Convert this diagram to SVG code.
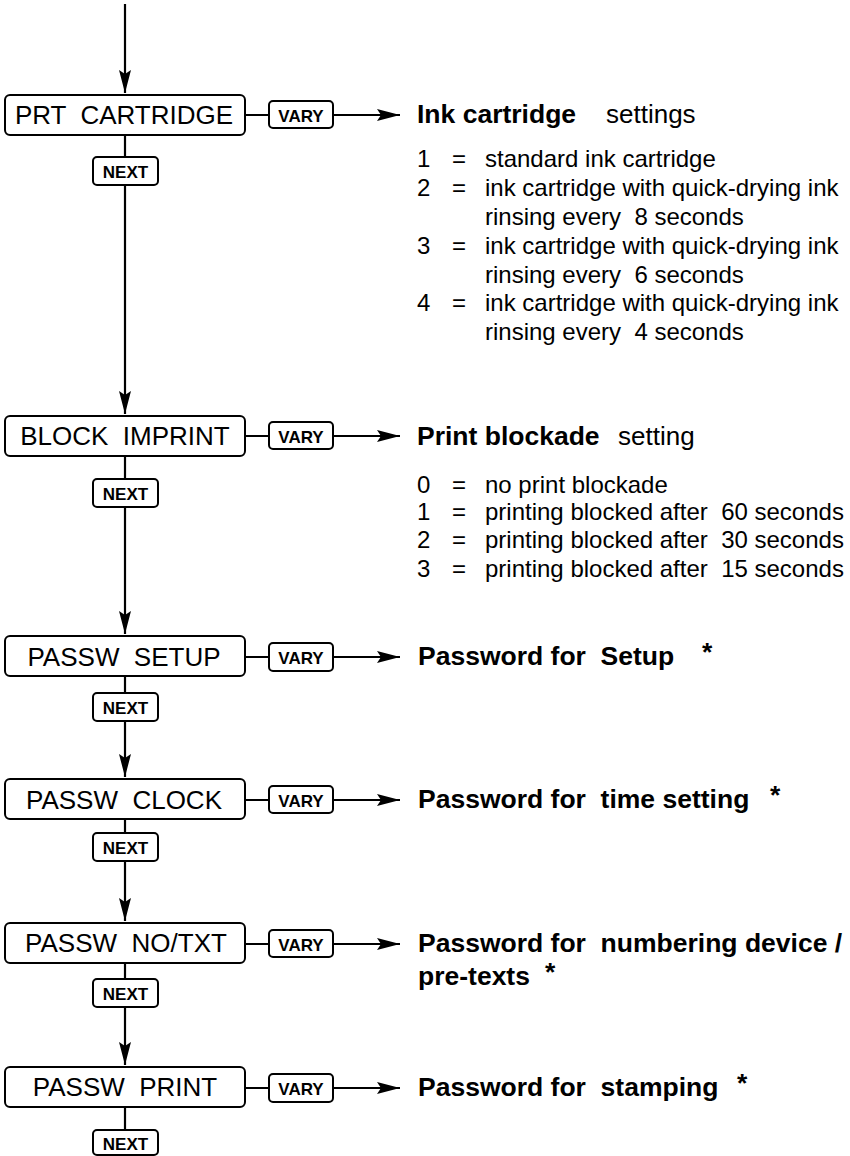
<svg xmlns="http://www.w3.org/2000/svg" width="850" height="1156" viewBox="0 0 850 1156">
<style>
text{font-family:"Liberation Sans",Arial,sans-serif;fill:#000;white-space:pre}
.box{fill:#fff;stroke:#000;stroke-width:2}
.btn{fill:#fff;stroke:#000;stroke-width:2}
.lbl{font-size:26px;text-anchor:middle}
.key{font-size:17px;font-weight:bold;text-anchor:middle}
.h{font-size:26.5px;font-weight:bold}
.n{font-size:24px}
.ln{stroke:#000;stroke-width:2.2;fill:none}
</style>
<defs>
<marker id="ah" markerUnits="userSpaceOnUse" markerWidth="26" markerHeight="14" viewBox="-24 -7 26 14" refX="0" refY="0" orient="auto">
<path d="M0,0 L-23,-6 L-19,0 L-23,6 Z" fill="#000"/>
</marker>
</defs>
<g id="connectors">
<line class="ln" x1="125" y1="4" x2="125" y2="93" marker-end="url(#ah)"/>
<line class="ln" x1="125" y1="134" x2="125" y2="414" marker-end="url(#ah)"/>
<line class="ln" x1="125" y1="456" x2="125" y2="634" marker-end="url(#ah)"/>
<line class="ln" x1="125" y1="676" x2="125" y2="777" marker-end="url(#ah)"/>
<line class="ln" x1="125" y1="819" x2="125" y2="921" marker-end="url(#ah)"/>
<line class="ln" x1="125" y1="963" x2="125" y2="1065" marker-end="url(#ah)"/>
<line class="ln" x1="125" y1="1107" x2="125" y2="1131"/>
<line class="ln" x1="245" y1="115" x2="400" y2="115" marker-end="url(#ah)"/>
<line class="ln" x1="245" y1="436" x2="400" y2="436" marker-end="url(#ah)"/>
<line class="ln" x1="245" y1="657" x2="400" y2="657" marker-end="url(#ah)"/>
<line class="ln" x1="245" y1="800" x2="400" y2="800" marker-end="url(#ah)"/>
<line class="ln" x1="245" y1="944" x2="400" y2="944" marker-end="url(#ah)"/>
<line class="ln" x1="245" y1="1088" x2="400" y2="1088" marker-end="url(#ah)"/>
</g>
<g id="prt-cartridge">
<rect class="box" x="5" y="95" width="240" height="40" rx="5"/>
<text class="lbl" x="124" y="124">PRT  CARTRIDGE</text>
<rect class="btn" x="269" y="101" width="64" height="27" rx="4"/>
<text class="key" x="301" y="122">VARY</text>
<rect class="btn" x="93" y="157" width="65" height="28" rx="4"/>
<text class="key" x="125.5" y="178">NEXT</text>
</g>
<g id="ink-text">
<text class="h" x="417" y="123">Ink cartridge</text>
<text x="606" y="123" style="font-size:26px">settings</text>
<text class="n" x="417" y="167">1</text><text class="n" x="452" y="167">=</text><text class="n" x="485" y="167">standard ink cartridge</text>
<text class="n" x="417" y="196">2</text><text class="n" x="452" y="196">=</text><text class="n" x="485" y="196">ink cartridge with quick-drying ink</text>
<text class="n" x="485" y="225">rinsing every  8 seconds</text>
<text class="n" x="417" y="254">3</text><text class="n" x="452" y="254">=</text><text class="n" x="485" y="254">ink cartridge with quick-drying ink</text>
<text class="n" x="485" y="283">rinsing every  6 seconds</text>
<text class="n" x="417" y="311">4</text><text class="n" x="452" y="311">=</text><text class="n" x="485" y="311">ink cartridge with quick-drying ink</text>
<text class="n" x="485" y="340">rinsing every  4 seconds</text>
</g>
<g id="block-imprint">
<rect class="box" x="5" y="416" width="240" height="40" rx="5"/>
<text class="lbl" x="125" y="445">BLOCK  IMPRINT</text>
<rect class="btn" x="269" y="422" width="64" height="27" rx="4"/>
<text class="key" x="301" y="443">VARY</text>
<rect class="btn" x="93" y="479" width="65" height="28" rx="4"/>
<text class="key" x="125.5" y="500">NEXT</text>
</g>
<g id="block-text">
<text class="h" x="417" y="445">Print blockade</text>
<text x="618" y="445" style="font-size:26px">setting</text>
<text class="n" x="417" y="493">0</text><text class="n" x="452" y="493">=</text><text class="n" x="485" y="493">no print blockade</text>
<text class="n" x="417" y="520">1</text><text class="n" x="452" y="520">=</text><text class="n" x="485" y="520">printing blocked after  60 seconds</text>
<text class="n" x="417" y="548">2</text><text class="n" x="452" y="548">=</text><text class="n" x="485" y="548">printing blocked after  30 seconds</text>
<text class="n" x="417" y="577">3</text><text class="n" x="452" y="577">=</text><text class="n" x="485" y="577">printing blocked after  15 seconds</text>
</g>
<g id="passw-setup">
<rect class="box" x="5" y="636" width="240" height="40" rx="5"/>
<text class="lbl" x="124" y="666">PASSW  SETUP</text>
<rect class="btn" x="269" y="643" width="64" height="28" rx="4"/>
<text class="key" x="301" y="664">VARY</text>
<rect class="btn" x="93" y="693" width="65" height="28" rx="4"/>
<text class="key" x="125.5" y="714">NEXT</text>
<text class="h" x="418" y="665">Password for  Setup</text>
<text class="h" x="702" y="661">*</text>
</g>
<g id="passw-clock">
<rect class="box" x="5" y="779" width="240" height="40" rx="5"/>
<text class="lbl" x="124" y="809">PASSW  CLOCK</text>
<rect class="btn" x="269" y="786" width="64" height="27" rx="4"/>
<text class="key" x="301" y="807">VARY</text>
<rect class="btn" x="93" y="833" width="65" height="28" rx="4"/>
<text class="key" x="125.5" y="854">NEXT</text>
<text class="h" x="418" y="808">Password for  time setting</text>
<text class="h" x="770" y="804">*</text>
</g>
<g id="passw-notxt">
<rect class="box" x="5" y="923" width="240" height="40" rx="5"/>
<text class="lbl" x="126" y="952">PASSW  NO/TXT</text>
<rect class="btn" x="269" y="930" width="64" height="27" rx="4"/>
<text class="key" x="301" y="951">VARY</text>
<rect class="btn" x="93" y="979" width="65" height="28" rx="4"/>
<text class="key" x="125.5" y="1000">NEXT</text>
<text class="h" x="418" y="952">Password for  numbering device /</text>
<text class="h" x="418" y="985">pre-texts</text>
<text class="h" x="545" y="981">*</text>
</g>
<g id="passw-print">
<rect class="box" x="5" y="1067" width="240" height="40" rx="5"/>
<text class="lbl" x="125" y="1096">PASSW  PRINT</text>
<rect class="btn" x="269" y="1074" width="64" height="28" rx="4"/>
<text class="key" x="301" y="1095">VARY</text>
<rect class="btn" x="93" y="1130" width="65" height="25" rx="4"/>
<text class="key" x="125.5" y="1150">NEXT</text>
<text class="h" x="418" y="1096">Password for  stamping</text>
<text class="h" x="737" y="1092">*</text>
</g>
</svg>
